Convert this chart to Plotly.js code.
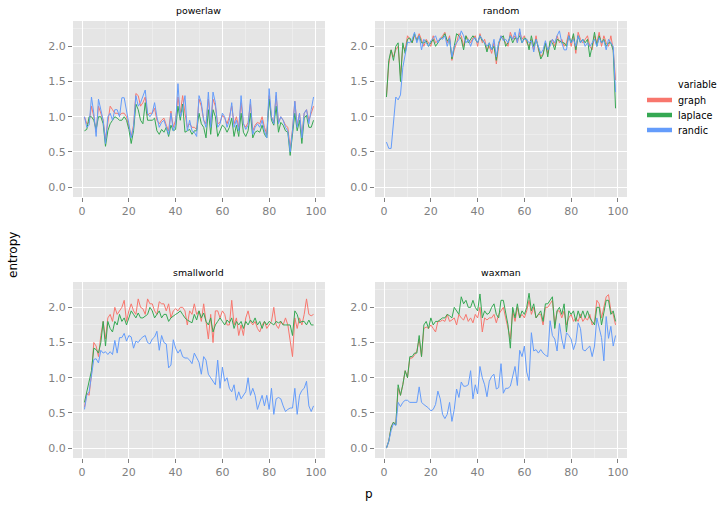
<!DOCTYPE html>
<html>
<head>
<meta charset="utf-8">
<script src="https://cdn.plot.ly/plotly-3.0.1.min.js"></script>
<style>
  html, body { margin: 0; padding: 0; background: #fff; }
  #chart { width: 728px; height: 509px; }
</style>
</head>
<body>
<div id="chart"></div>
<script>
// facet names and series names
var paneles = ["powerlaw", "random", "smallworld", "waxman"];
var variables = ["graph", "laplace", "randic"];
var colores = ["#F8766D", "#35A853", "#649CFB"];

// powerlaw
var powerlawGraph = [1.00,0.90,0.92,1.15,1.00,0.78,1.15,1.05,0.95,0.68,
  0.95,1.15,1.10,1.05,1.05,1.02,1.05,1.05,1.00,0.85,
  0.72,0.88,1.33,1.30,1.15,1.20,1.28,1.02,1.05,1.05,
  1.12,0.95,0.90,0.95,0.98,0.88,0.80,1.08,0.85,0.95,
  1.28,1.05,1.30,1.05,0.85,0.90,0.85,0.85,0.82,1.25,
  1.15,0.95,0.90,1.25,0.88,1.25,1.15,0.90,0.92,1.02,
  0.98,0.90,1.00,1.15,0.90,1.00,0.85,1.20,0.90,0.85,
  0.92,1.18,0.80,0.88,0.92,0.90,1.00,0.85,0.75,1.30,
  1.00,0.92,1.30,0.92,1.00,0.95,0.88,0.85,0.55,0.82,
  1.22,0.88,1.05,0.72,1.05,1.10,0.95,1.05,1.15];
var powerlawLaplace = [0.80,0.82,1.00,1.00,0.95,0.82,1.00,1.00,0.90,0.58,
  0.80,0.90,0.95,1.00,0.98,0.95,0.95,1.00,0.95,0.82,
  0.62,0.80,1.18,1.10,0.95,0.90,1.20,0.95,0.95,0.95,
  0.98,0.80,0.75,0.82,0.78,0.85,0.72,0.88,0.80,0.82,
  1.15,0.95,1.18,0.78,0.80,0.82,0.75,0.80,0.80,1.05,
  0.90,0.85,0.70,1.10,0.75,1.10,1.00,0.72,0.80,0.88,
  0.85,0.78,0.85,0.98,0.72,0.88,0.72,1.05,0.78,0.72,
  0.80,1.05,0.70,0.78,0.80,0.78,0.88,0.75,0.70,1.25,
  0.95,0.88,1.15,0.78,0.92,0.88,0.80,0.78,0.45,0.75,
  1.05,0.80,0.95,0.62,0.98,1.02,0.85,0.85,0.95];
var powerlawRandic = [1.00,0.85,0.88,1.28,1.05,0.72,1.25,1.10,0.95,0.62,
  1.00,1.05,0.95,1.10,1.10,1.00,1.27,1.27,1.10,0.90,
  0.70,0.85,1.30,1.15,1.20,1.30,1.38,1.05,1.00,1.05,
  1.20,1.00,0.85,0.92,0.95,0.85,0.75,1.05,0.80,0.90,
  1.47,1.00,1.10,1.30,0.80,0.95,0.80,0.78,0.72,1.30,
  1.20,0.95,0.85,1.35,0.85,1.35,1.20,0.85,0.90,1.05,
  1.00,0.85,0.95,1.20,0.85,0.95,0.80,1.30,0.90,0.82,
  0.88,1.25,0.75,0.85,0.90,0.85,0.95,0.80,0.70,1.40,
  1.00,0.90,1.35,0.90,1.00,0.95,0.85,0.80,0.50,0.80,
  1.22,0.85,1.05,0.70,1.05,1.10,0.90,1.10,1.28];

// random
var randomGraph = [1.28,1.75,1.95,1.85,1.95,2.00,1.58,2.00,1.95,2.15,
  2.10,2.05,2.15,2.10,2.18,2.10,2.00,2.10,2.05,2.00,
  2.15,2.05,2.08,2.10,2.15,2.20,2.05,2.15,1.80,1.95,
  2.05,2.18,2.15,2.00,2.15,2.10,2.05,2.12,2.15,2.00,
  2.18,2.05,2.10,1.95,2.00,1.90,2.05,1.75,2.00,2.15,
  2.10,2.05,2.00,2.20,2.10,2.15,2.05,2.20,2.10,2.15,
  2.05,2.00,2.10,1.95,2.15,1.95,1.85,1.90,2.05,1.90,
  2.05,2.10,2.00,2.15,2.05,2.10,2.00,2.05,2.20,2.00,
  2.15,1.90,2.20,2.10,2.05,2.10,2.15,2.00,1.95,2.15,
  2.05,2.20,2.00,2.15,2.05,2.00,2.15,1.95,1.52];
var randomLaplace = [1.28,1.80,1.95,1.80,2.00,2.05,1.50,2.05,1.90,2.10,
  2.12,2.05,2.18,2.08,2.15,2.05,2.05,2.08,2.00,2.05,
  2.10,2.00,2.05,2.10,2.12,2.18,2.08,2.10,1.82,1.98,
  2.18,2.15,2.10,1.95,2.15,2.05,2.10,2.15,2.10,2.05,
  2.15,2.08,2.05,1.92,2.05,1.95,2.00,1.80,2.05,2.12,
  2.15,2.00,2.05,2.15,2.05,2.12,2.10,2.15,2.05,2.12,
  2.10,1.95,2.15,2.00,2.10,1.98,1.82,1.88,2.05,1.85,
  2.08,2.05,1.95,2.10,2.08,2.05,2.05,2.00,2.15,2.05,
  2.18,1.95,2.15,2.05,2.10,2.05,2.10,1.85,2.00,2.20,
  2.00,2.15,2.05,2.10,2.00,2.05,2.05,1.94,1.12];
var randomRandic = [0.64,0.55,0.55,0.90,1.28,1.24,1.31,1.70,1.90,2.06,
  2.05,2.10,2.20,2.05,2.15,1.95,2.10,2.05,2.00,2.08,
  2.12,2.15,2.05,2.12,2.10,2.15,2.00,2.12,1.85,2.00,
  2.05,2.10,2.22,2.15,2.05,2.10,2.00,2.10,2.12,2.05,
  2.15,2.10,2.05,2.00,2.05,1.95,2.10,1.85,2.05,2.15,
  2.08,2.10,2.05,2.15,2.10,2.20,2.05,2.25,2.05,2.10,
  2.10,2.05,2.08,1.92,2.10,2.00,1.90,1.95,2.08,1.95,
  2.00,2.10,2.05,2.15,2.22,2.05,1.95,1.95,2.15,2.05,
  2.10,2.00,2.15,2.05,2.10,2.00,2.05,2.00,2.05,2.10,
  2.00,2.12,2.05,2.08,1.95,2.10,2.05,2.00,1.35];

// smallworld
var smallworldGraph = [0.58,0.78,0.75,1.05,1.50,1.45,1.30,1.60,1.80,1.55,
  1.85,1.90,1.80,2.00,1.90,1.95,2.00,2.10,1.80,1.95,
  2.05,1.95,1.90,2.12,2.00,1.98,1.90,2.12,2.05,2.05,
  1.95,1.90,2.08,2.05,2.05,1.95,2.05,1.85,1.95,1.98,
  1.95,2.00,2.00,1.95,1.75,1.95,1.90,2.05,1.90,1.95,
  1.80,2.05,1.80,1.55,1.90,1.50,1.95,1.95,1.85,1.95,
  1.90,1.75,1.75,2.10,1.75,1.85,1.60,1.75,1.60,1.85,
  1.95,1.80,1.75,1.80,1.70,1.65,1.75,1.80,1.70,1.75,
  1.80,2.00,1.75,1.70,1.80,1.75,1.85,1.75,1.55,1.30,
  1.85,1.70,1.85,1.75,1.90,2.12,1.90,1.88,1.90];
var smallworldLaplace = [0.65,0.80,0.95,1.10,1.42,1.40,1.35,1.50,1.80,1.45,
  1.80,1.70,1.65,1.80,1.75,1.90,1.80,1.85,1.75,1.85,
  1.95,1.90,1.85,1.92,1.85,1.85,1.88,1.90,2.00,1.95,
  1.85,1.90,1.95,1.85,1.90,1.90,1.80,1.85,1.88,1.90,
  1.92,1.95,1.90,1.85,1.82,1.80,1.78,1.90,1.82,1.95,
  1.85,1.92,1.80,1.75,1.85,1.65,1.75,1.80,1.85,1.80,
  1.75,1.82,1.78,1.85,1.70,1.80,1.75,1.80,1.70,1.80,
  1.75,1.82,1.78,1.85,1.75,1.80,1.70,1.80,1.75,1.80,
  1.78,1.75,1.80,1.78,1.80,1.75,1.75,1.75,1.75,1.60,
  1.95,1.90,1.78,1.80,1.80,1.75,1.82,1.75,1.75];
var smallworldRandic = [0.55,0.75,0.80,1.00,1.26,1.27,1.21,1.39,1.35,1.37,
  1.33,1.37,1.33,1.53,1.35,1.57,1.57,1.63,1.52,1.60,
  1.58,1.42,1.52,1.50,1.55,1.58,1.60,1.50,1.48,1.55,
  1.58,1.66,1.39,1.60,1.50,1.48,1.14,1.18,1.54,1.42,
  1.35,1.40,1.30,1.28,1.28,1.25,1.20,1.35,1.28,1.22,
  1.05,1.30,1.25,1.05,1.00,0.95,0.90,1.25,0.85,1.15,
  0.95,1.00,0.85,0.80,0.90,0.68,0.80,0.70,0.75,0.80,
  1.00,0.75,0.85,0.75,0.55,0.65,0.75,0.60,0.75,0.55,
  0.85,0.48,0.70,0.72,0.70,0.60,0.52,0.55,0.57,0.57,
  0.85,0.48,0.75,0.82,0.85,0.95,0.60,0.52,0.60];

// waxman
var waxmanGraph = [0.00,0.10,0.30,0.37,0.33,0.85,0.75,0.90,1.10,1.00,
  1.28,1.28,1.32,1.38,1.55,1.30,1.70,1.72,1.70,1.75,
  1.70,1.65,1.80,1.80,1.82,1.80,1.90,1.80,1.82,1.85,
  1.75,1.90,1.85,1.82,1.90,1.80,1.85,1.78,1.90,1.85,
  2.00,1.65,1.85,1.82,1.85,1.85,1.90,1.78,1.90,1.95,
  2.00,1.85,1.70,1.55,1.95,1.80,2.00,1.85,1.90,1.85,
  1.95,2.10,1.90,2.00,1.85,1.90,1.90,1.75,2.00,2.00,
  2.05,2.10,1.75,1.95,1.95,1.85,1.95,1.75,1.85,1.90,
  1.80,1.85,1.80,1.90,1.80,1.85,1.82,1.90,1.75,1.80,
  2.10,2.05,1.85,2.00,2.15,2.18,1.95,1.90,1.75];
var waxmanLaplace = [0.00,0.10,0.30,0.37,0.33,0.90,0.75,0.90,1.10,1.00,
  1.30,1.30,1.35,1.35,1.60,1.30,1.75,1.80,1.70,1.85,
  1.75,1.80,1.80,1.82,1.85,1.85,1.90,1.88,1.85,2.00,
  1.95,1.90,2.15,2.05,2.10,2.00,2.00,2.10,2.00,1.95,
  2.19,1.85,1.95,1.90,1.92,2.00,2.05,1.90,1.85,2.10,
  2.10,1.90,1.75,1.42,2.00,1.85,2.05,1.85,1.95,1.90,
  2.00,2.20,1.95,2.05,1.85,1.90,1.95,1.80,2.05,2.05,
  2.10,2.15,1.70,1.95,2.00,1.90,2.05,1.65,1.95,1.90,
  1.95,1.80,1.95,1.85,1.95,1.85,1.95,1.85,1.80,1.75,
  2.00,2.00,1.75,1.95,2.10,2.10,1.90,1.95,1.80];
var waxmanRandic = [0.00,0.10,0.25,0.35,0.32,0.65,0.59,0.65,0.68,0.68,
  0.65,0.65,0.65,0.65,0.87,0.65,0.62,0.60,0.57,0.53,
  0.55,0.62,0.81,0.70,0.48,0.42,0.48,0.65,0.38,0.55,
  0.84,0.72,0.94,0.88,0.88,0.90,1.10,0.70,0.90,0.77,
  1.16,1.00,0.90,0.73,0.95,1.02,1.05,0.84,0.86,1.20,
  0.78,0.85,0.85,0.88,1.00,1.16,0.89,1.39,1.30,1.45,
  1.08,0.96,1.64,1.38,1.40,1.35,1.40,1.35,1.32,1.30,
  1.81,1.60,1.55,1.38,1.77,1.55,1.41,1.64,1.60,1.55,
  1.40,1.50,1.78,1.70,1.40,1.38,1.42,1.45,1.30,1.45,
  1.85,1.70,1.57,1.24,1.87,1.56,1.73,1.45,1.60];

var datos = {
  powerlaw: [powerlawGraph, powerlawLaplace, powerlawRandic],
  random: [randomGraph, randomLaplace, randomRandic],
  smallworld: [smallworldGraph, smallworldLaplace, smallworldRandic],
  waxman: [waxmanGraph, waxmanLaplace, waxmanRandic]
};

var W = 728, H = 509;
// panel boxes in pixels: [left, right, top, bottom]
var cajas = [[73, 325, 21, 197], [375, 627, 21, 197], [73, 325, 282, 458], [375, 627, 282, 458]];

function ejeX(caja, ancla) {
  return {
    domain: [caja[0] / W, caja[1] / W],
    anchor: ancla,
    range: [-3.9, 103.9],
    tickvals: [0, 20, 40, 60, 80, 100],
    showgrid: true, gridcolor: "#FFFFFF", gridwidth: 1.1,
    minor: { tickvals: [10, 30, 50, 70, 90], showgrid: true, gridcolor: "#F2F2F2", gridwidth: 0.6, ticks: "" },
    zeroline: false, showline: false,
    ticks: "outside", ticklen: 4, tickcolor: "#7F7F7F", tickwidth: 1,
    tickfont: { family: "DejaVu Sans", size: 11, color: "#7F7F7F" }
  };
}

function ejeY(caja, ancla) {
  return {
    domain: [1 - caja[3] / H, 1 - caja[2] / H],
    anchor: ancla,
    range: [-0.14, 2.36],
    tickvals: [0, 0.5, 1, 1.5, 2],
    ticktext: ["0.0", "0.5", "1.0", "1.5", "2.0"],
    showgrid: true, gridcolor: "#FFFFFF", gridwidth: 1.1,
    minor: { tickvals: [0.25, 0.75, 1.25, 1.75, 2.25], showgrid: true, gridcolor: "#F2F2F2", gridwidth: 0.6, ticks: "" },
    zeroline: false, showline: false,
    ticks: "outside", ticklen: 4, tickcolor: "#7F7F7F", tickwidth: 1,
    tickfont: { family: "DejaVu Sans", size: 11, color: "#7F7F7F" }
  };
}

var trazas = [];
var layout = {
  width: W, height: H,
  margin: { l: 0, r: 0, t: 0, b: 0 },
  paper_bgcolor: "#FFFFFF",
  plot_bgcolor: "#E5E5E5",
  showlegend: false,
  font: { family: "DejaVu Sans", color: "#000000" },
  annotations: [],
  shapes: []
};

for (var k = 0; k < paneles.length; k++) {
  var nombre = paneles[k];
  var sufijo = k === 0 ? "" : String(k + 1);
  var series = datos[nombre];
  for (var j = 0; j < variables.length; j++) {
    var ys = series[j];
    var xs = ys.map(function (v, i) { return i + 1; });
    trazas.push({
      x: xs, y: ys,
      type: "scatter", mode: "lines",
      name: variables[j],
      line: { color: colores[j], width: 1 },
      xaxis: "x" + sufijo, yaxis: "y" + sufijo
    });
  }
  layout["xaxis" + sufijo] = ejeX(cajas[k], "y" + sufijo);
  layout["yaxis" + sufijo] = ejeY(cajas[k], "x" + sufijo);
  // facet strip label
  layout.annotations.push({
    text: nombre, showarrow: false,
    xref: "paper", yref: "paper",
    x: (cajas[k][0] + cajas[k][1]) / 2 / W, y: 1 - (cajas[k][2] - 10) / H,
    xanchor: "center", yanchor: "middle",
    font: { size: 9.4, color: "#000000" }
  });
}

// shared axis titles
layout.annotations.push({
  text: "entropy", showarrow: false, textangle: -90,
  xref: "paper", yref: "paper", x: 13 / W, y: 1 - 255 / H,
  xanchor: "center", yanchor: "middle",
  font: { size: 12, color: "#000000" }
});
layout.annotations.push({
  text: "p", showarrow: false,
  xref: "paper", yref: "paper", x: 369 / W, y: 1 - 494 / H,
  xanchor: "center", yanchor: "middle",
  font: { size: 12, color: "#000000" }
});

// legend drawn by hand, ggplot style
layout.annotations.push({
  text: "variable", showarrow: false,
  xref: "paper", yref: "paper", x: 676 / W, y: 1 - 85 / H,
  xanchor: "left", yanchor: "middle",
  font: { size: 9.6, color: "#000000" }
});
for (var m = 0; m < variables.length; m++) {
  var yc = 100 + m * 15;
  layout.shapes.push({
    type: "line", xref: "paper", yref: "paper",
    x0: 647 / W, x1: 672 / W, y0: 1 - yc / H, y1: 1 - yc / H,
    line: { color: colores[m], width: 4.5 }
  });
  layout.annotations.push({
    text: variables[m], showarrow: false,
    xref: "paper", yref: "paper", x: 676 / W, y: 1 - yc / H,
    xanchor: "left", yanchor: "middle",
    font: { size: 9.6, color: "#000000" }
  });
}

Plotly.newPlot("chart", trazas, layout, { staticPlot: true });
</script>
</body>
</html>
